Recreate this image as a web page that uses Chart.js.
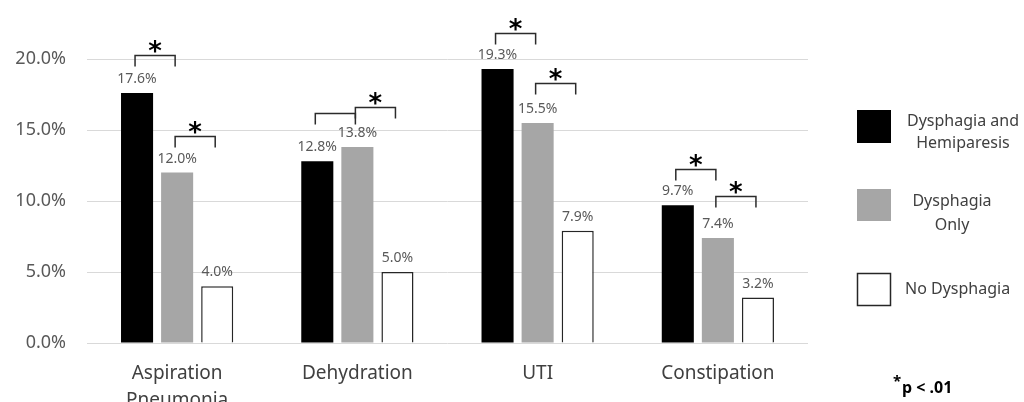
<!DOCTYPE html>
<html>
<head>
<meta charset="utf-8">
<script src="https://cdn.jsdelivr.net/npm/chart.js@4/dist/chart.umd.min.js"></script>
<style>
  html, body { margin: 0; padding: 0; background: #fff; }
  #wrap { width: 1024px; height: 402px; }
</style>
</head>
<body>
<div id="wrap"><canvas id="chart" width="1024" height="402"></canvas></div>
<script>
'use strict';

// chart data
const categories = [['Aspiration', 'Pneumonia'], 'Dehydration', 'UTI', 'Constipation'];
const hemiparesis = [17.6, 12.8, 19.3, 9.7];
const dysphagiaOnly = [12.0, 13.8, 15.5, 7.4];
const noDysphagia = [4.0, 5.0, 7.9, 3.2];
const yTicks = [0, 5, 10, 15, 20];

// significance brackets: level (in %) of [black-gray, gray-white] per category
const bracketLevels = [[20.3, 14.6], [16.2, 16.6], [21.8, 18.3], [12.25, 10.35]];
const bracketStars = [[true, true], [false, true], [true, true], [true, true]];

const seriesNames = [['Dysphagia and', 'Hemiparesis'], ['Dysphagia', 'Only'], ['No Dysphagia']];
const footnote = 'p < .01';

const FONT = "'Noto Sans', 'DejaVu Sans', sans-serif";

// value labels above every bar
const valueLabels = {
  id: 'valueLabels',
  afterDatasetsDraw(chart) {
    const ctx = chart.ctx;
    ctx.save();
    ctx.font = '14px ' + FONT;
    ctx.fillStyle = '#595959';
    ctx.textAlign = 'center';
    ctx.textBaseline = 'alphabetic';
    chart.data.datasets.forEach(function (ds, i) {
      chart.getDatasetMeta(i).data.forEach(function (bar, j) {
        ctx.fillText(ds.data[j].toFixed(1) + '%', bar.x, bar.y - 10);
      });
    });
    ctx.restore();
  }
};

// brackets with asterisks
const brackets = {
  id: 'brackets',
  afterDatasetsDraw(chart) {
    const ctx = chart.ctx;
    const yScale = chart.scales.y;
    ctx.save();
    ctx.strokeStyle = '#2b2b2b';
    ctx.lineWidth = 1.5;
    bracketLevels.forEach(function (levels, c) {
      levels.forEach(function (level, k) {
        const x1 = chart.getDatasetMeta(k).data[c].x - 2;
        const x2 = chart.getDatasetMeta(k + 1).data[c].x - 2;
        const y = Math.round(yScale.getPixelForValue(level)) + 0.5;
        ctx.beginPath();
        ctx.moveTo(x1, y + 11);
        ctx.lineTo(x1, y);
        ctx.lineTo(x2, y);
        ctx.lineTo(x2, y + 11);
        ctx.stroke();
        if (bracketStars[c][k]) {
          ctx.fillStyle = '#000';
          ctx.font = 'bold 26px "DejaVu Sans", sans-serif';
          ctx.textAlign = 'center';
          ctx.textBaseline = 'alphabetic';
          ctx.fillText('*', (x1 + x2) / 2, y + 4);
        }
      });
    });
    ctx.restore();
  }
};

// legend on the right side
const sideLegend = {
  id: 'sideLegend',
  afterDraw(chart) {
    const ctx = chart.ctx;
    ctx.save();
    // boxes
    ctx.fillStyle = '#000';
    ctx.fillRect(857, 110, 34, 33);
    ctx.fillStyle = '#a6a6a6';
    ctx.fillRect(857, 189, 34, 32);
    ctx.fillStyle = '#fff';
    ctx.fillRect(857, 273, 34, 33);
    ctx.strokeStyle = '#262626';
    ctx.lineWidth = 1.5;
    ctx.strokeRect(857.5, 273.5, 33, 32);

    ctx.font = '16px ' + FONT;
    ctx.fillStyle = '#404040';
    ctx.textBaseline = 'middle';
    ctx.textAlign = 'center';
    ctx.fillText(seriesNames[0][0], 963, 121);
    ctx.fillText(seriesNames[0][1], 963, 143);
    ctx.fillText(seriesNames[1][0], 952, 201);
    ctx.fillText(seriesNames[1][1], 952, 225);
    ctx.textAlign = 'left';
    ctx.fillText(seriesNames[2][0], 905, 289);

    // footnote
    ctx.fillStyle = '#000';
    ctx.font = 'bold 15px ' + FONT;
    ctx.fillText('*', 893, 382);
    ctx.font = 'bold 16px ' + FONT;
    ctx.fillText(footnote, 902, 388);
    ctx.restore();
  }
};

const ctx = document.getElementById('chart').getContext('2d');
new Chart(ctx, {
  type: 'bar',
  data: {
    labels: categories,
    datasets: [
      {
        label: 'Dysphagia and Hemiparesis',
        data: hemiparesis,
        backgroundColor: '#000000',
        borderColor: '#000000',
        borderWidth: 0
      },
      {
        label: 'Dysphagia Only',
        data: dysphagiaOnly,
        backgroundColor: '#a6a6a6',
        borderWidth: 0
      },
      {
        label: 'No Dysphagia',
        data: noDysphagia,
        backgroundColor: '#ffffff',
        borderColor: '#262626',
        borderWidth: 1.5
      }
    ]
  },
  options: {
    responsive: false,
    maintainAspectRatio: false,
    devicePixelRatio: 1,
    animation: false,
    categoryPercentage: 0.667,
    barPercentage: 0.8,
    layout: {
      padding: { top: 59, right: 216, left: 0, bottom: 0 }
    },
    plugins: {
      legend: { display: false },
      tooltip: { enabled: false }
    },
    scales: {
      x: {
        grid: { display: false },
        border: { display: false },
        ticks: {
          font: { family: FONT, size: 19, lineHeight: 1.42 },
          color: '#404040',
          padding: 9,
          maxRotation: 0
        },
        afterFit: function (scale) { scale.height = 59; }
      },
      y: {
        min: 0,
        max: 20,
        afterBuildTicks: function (scale) {
          scale.ticks = yTicks.map(function (v) { return { value: v }; });
        },
        grid: { color: '#d9d9d9', drawTicks: false, lineWidth: 1 },
        border: { display: false },
        ticks: {
          font: { family: FONT, size: 18 },
          color: '#595959',
          padding: 21,
          callback: function (v) { return v.toFixed(1) + '%'; }
        },
        afterFit: function (scale) { scale.width = 87; }
      }
    }
  },
  plugins: [valueLabels, brackets, sideLegend]
});
</script>
</body>
</html>
